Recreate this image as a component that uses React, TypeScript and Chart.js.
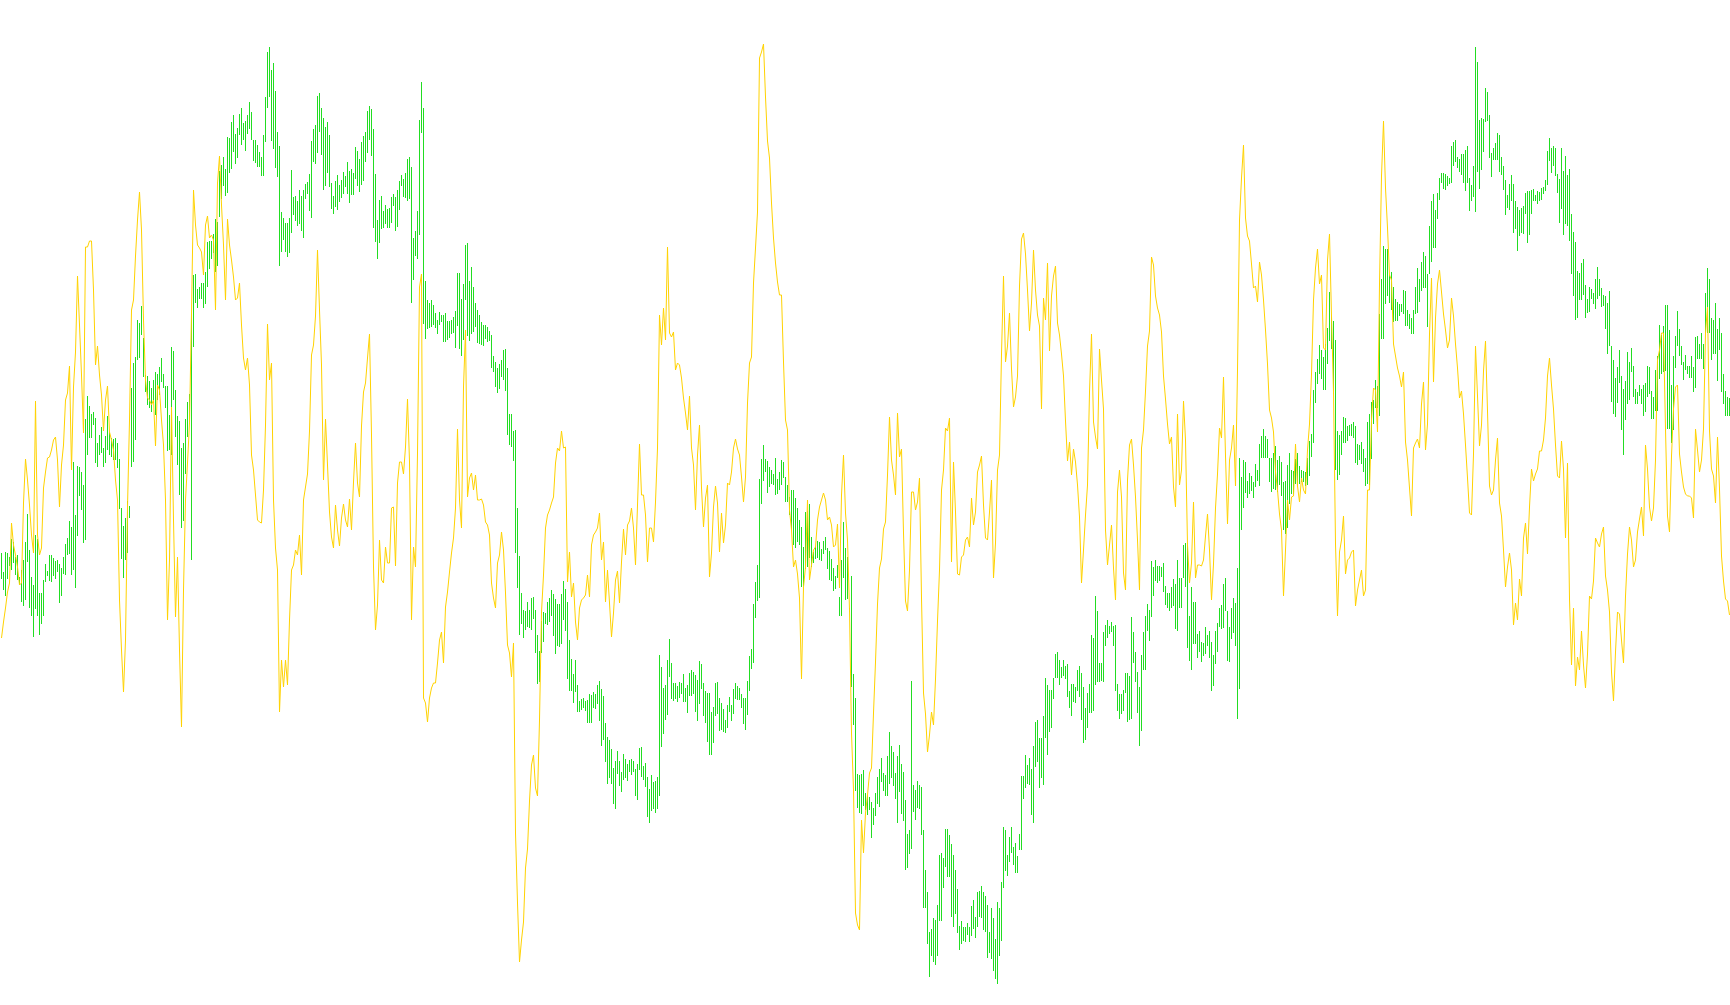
import React, { useEffect, useRef } from "react";
import { Chart, registerables } from "chart.js";

Chart.register(...registerables);

const rangeTop = [
553,572,552,553,557,539,542,557,555,577,570,560,542,514,550,577,585,535,539,593,593,580,564,571,555,555,558,561,560,564,
568,557,544,538,521,527,462,515,466,467,472,485,419,396,406,414,412,418,443,435,427,448,436,416,432,438,439,438,443,459,
508,526,518,501,506,388,363,357,320,323,306,338,375,376,381,388,380,372,374,367,358,374,386,386,415,347,351,390,416,421,448,443,419,402,394,313,
275,274,289,287,283,283,272,242,241,241,234,219,222,171,165,157,169,137,138,122,115,134,128,114,108,123,121,115,102,112,140,140,145,152,157,135,97,52,47,70,63,91,132,146,212,218,223,223,218,170,197,196,201,190,
196,190,184,182,174,141,129,125,96,93,108,118,127,122,135,183,196,181,175,185,180,172,176,162,171,169,173,147,151,159,142,136,132,111,106,109,129,174,220,200,196,211,205,209,208,197,194,197,190,181,175,179,173,159,157,167,238,231,211,120,82,108,281,300,303,300,305,313,320,312,315,315,313,321,321,320,317,311,273,273,299,284,245,243,281,267,287,303,310,315,322,325,325,327,331,335,356,362,368,364,360,350,349,368,414,414,431,430,
508,556,593,610,611,602,610,598,597,610,635,651,621,612,613,602,598,590,594,599,604,604,594,581,589,602,640,659,674,660,685,701,699,698,701,700,694,695,692,694,685,681,
689,696,723,737,740,749,768,761,751,761,772,754,759,764,760,759,761,769,764,748,747,766,763,777,789,775,782,781,777,655,667,688,685,660,639,663,683,683,686,682,683,674,688,685,673,670,672,675,680,661,664,683,691,693,693,712,707,683,682,698,703,709,720,705,697,705,689,683,686,688,694,698,698,681,656,649,604,582,565,
479,459,445,459,461,467,470,474,458,479,472,460,462,477,485,497,490,490,498,508,520,527,547,512,511,504,537,552,546,541,542,549,541,537,548,551,559,568,576,565,597,560,522,548,557,608,576,674,698,774,775,774,770,793,795,797,802,808,793,777,769,758,773,775,756,732,746,752,773,756,745,
764,772,800,834,830,681,785,790,781,785,787,830,870,892,932,929,918,920,905,855,853,858,829,829,835,844,855,870,889,926,921,927,927,923,927,906,900,917,892,891,886,892,896,905,932,908,918,939,902,908,882,827,830,855,837,827,847,843,856,834,776,776,755,765,758,769,746,722,720,738,738,716,678,685,690,690,678,654,652,660,667,660,666,664,691,684,684,687,670,666,673,687,708,693,684,635,638,596,611,663,663,632,625,620,626,622,626,625,684,694,694,690,673,673,676,617,632,652,672,687,655,632,616,604,610,561,567,560,566,566,567,563,586,593,593,587,579,584,560,578,578,545,543,543,616,587,602,602,634,631,
642,643,627,635,631,642,655,631,623,608,605,584,578,611,627,608,598,603,568,458,477,460,462,481,473,476,482,464,470,444,436,429,436,439,458,458,453,446,460,456,462,482,481,465,453,470,471,459,453,466,470,471,472,458,441,434,390,372,359,345,350,357,344,328,292,316,321,340,431,435,431,417,418,426,425,424,422,426,444,445,442,449,458,422,414,402,400,380,386,314,279,246,249,249,275,272,287,299,302,304,304,290,291,310,314,318,310,287,268,279,262,252,256,274,226,201,194,210,193,178,173,173,174,176,178,
146,142,140,157,159,154,154,150,146,178,185,166,47,62,120,118,119,88,92,115,153,148,143,133,135,157,166,180,195,184,175,184,201,207,210,208,206,193,191,191,190,189,195,191,192,188,187,180,151,138,148,146,148,174,179,148,171,156,175,169,214,232,242,271,273,263,259,285,299,287,289,293,279,267,279,288,295,296,303,291,346,360,378,367,350,376,389,381,352,362,348,366,389,392,385,389,385,383,366,367,391,397,370,356,325,335,326,305,305,330,385,356,336,311,329,346,362,355,366,366,356,367,337,336,344,333,344,293,268,279,318,320,303,329,318,333,374,391,397,398,
];

const rangeBottom = [
579,590,596,579,566,570,563,575,580,585,602,606,600,562,608,616,637,609,616,635,624,616,582,576,581,582,576,579,572,603,
596,574,575,555,554,575,570,588,536,496,510,543,540,455,438,438,425,463,467,455,453,467,463,450,455,457,460,460,468,509,
559,578,560,553,518,467,462,440,360,358,335,377,392,405,408,412,403,415,400,395,382,388,408,451,450,455,400,437,465,495,528,521,474,437,424,560,
347,303,308,299,299,308,304,287,269,259,253,272,266,217,199,186,196,193,173,169,152,164,158,135,145,140,151,134,129,140,161,163,167,167,176,176,142,108,97,141,149,168,177,266,252,240,252,257,253,233,215,221,226,224,
231,238,199,194,211,218,162,164,153,132,155,190,186,173,187,209,214,207,210,202,198,194,187,194,203,195,195,179,186,192,185,181,162,153,140,156,228,242,259,243,229,228,224,228,228,223,206,231,227,210,186,197,198,201,199,303,280,256,259,235,133,324,339,329,328,327,325,328,334,325,322,342,342,340,338,334,333,348,326,349,356,340,300,336,341,334,332,327,343,344,345,346,339,342,341,368,372,387,393,389,377,380,391,435,445,447,461,553,
588,635,624,638,630,627,628,630,619,653,684,682,653,642,624,625,622,616,636,654,646,647,644,620,631,679,691,691,703,692,712,712,710,708,711,723,723,723,708,709,704,721,
746,740,762,784,778,784,804,809,774,786,792,780,778,781,772,775,772,796,800,770,777,780,787,817,823,811,809,813,809,796,747,734,720,715,677,699,701,699,702,698,694,702,702,713,696,696,694,712,721,704,689,716,723,742,755,755,743,716,714,731,730,732,733,728,712,721,714,699,700,700,708,724,730,715,691,669,663,618,601,
598,504,481,472,493,487,484,485,495,494,490,485,478,502,502,515,530,545,548,542,545,587,586,569,567,558,567,563,559,558,560,561,554,550,569,580,581,591,589,578,616,616,578,600,599,612,687,725,791,808,813,814,806,810,815,810,838,825,816,804,807,782,791,796,796,784,778,786,799,823,792,
814,821,870,868,854,849,812,820,808,809,835,908,908,944,977,956,962,965,956,921,921,888,867,877,877,917,927,914,933,950,944,941,942,935,942,936,929,938,927,917,918,930,932,958,953,959,971,979,984,956,941,888,871,876,862,853,865,873,873,850,850,799,788,784,785,815,823,767,762,788,778,785,738,755,732,728,699,678,678,685,678,676,679,697,708,716,702,703,691,697,720,743,740,728,713,713,711,685,682,682,681,682,646,638,634,632,646,691,711,719,714,711,693,722,720,719,663,682,713,746,731,670,670,631,641,617,596,581,583,581,577,592,605,608,611,608,606,629,631,608,608,578,587,648,661,670,644,644,658,652,
662,656,654,646,658,691,686,664,652,627,629,628,611,661,662,639,633,646,719,689,530,508,493,498,494,491,498,487,481,486,458,458,458,458,482,492,489,490,492,485,496,530,534,528,504,494,494,484,485,484,482,482,486,485,476,457,443,403,384,374,379,390,390,364,341,349,394,470,480,475,455,443,443,441,436,436,438,463,465,460,464,472,486,484,485,459,424,408,408,416,339,339,304,296,303,310,322,321,321,316,312,314,326,326,329,334,334,314,313,302,291,288,288,327,274,262,248,248,219,200,183,189,190,186,184,
183,166,162,168,172,175,183,191,183,211,201,197,212,172,189,170,152,122,121,158,177,160,160,160,172,175,190,215,208,210,201,233,229,251,236,233,234,214,243,235,214,201,201,204,201,200,194,191,185,161,173,166,176,193,223,209,235,224,226,241,274,296,320,318,300,300,295,318,313,312,299,304,309,299,296,307,306,329,354,346,402,414,417,403,383,430,455,420,404,400,372,397,404,404,396,404,416,412,397,394,419,419,411,411,379,374,372,371,429,429,443,430,368,346,356,365,380,370,374,378,378,392,388,359,359,359,369,333,333,333,360,354,354,381,350,392,404,416,416,416,
];

const lineValues = [
638,622,608,592,583,523,545,555,567,585,583,503,459,480,505,535,553,401,535,555,548,488,472,458,457,450,440,437,460,507,465,445,400,393,366,470,387,352,276,325,375,433,247,247,241,241,290,365,346,375,395,431,400,386,432,440,450,480,500,600,650,692,640,507,420,310,300,256,220,192,230,320,380,398,400,405,400,446,385,390,420,445,500,620,560,407,520,617,557,650,727,590,500,463,423,313,190,225,245,248,252,275,225,216,238,235,240,310,183,156,205,245,300,219,245,260,277,300,298,283,325,358,370,358,385,455,470,495,520,522,523,490,425,324,380,363,500,548,570,712,660,687,660,685,620,570,565,550,555,535,
575,500,487,474,431,355,345,316,250,310,365,480,419,465,512,537,548,505,530,546,518,504,520,527,499,530,482,443,483,497,426,392,383,358,334,435,567,630,605,540,580,583,547,563,563,508,507,566,483,462,462,474,447,399,462,620,547,567,453,287,274,698,703,722,698,688,683,683,663,640,632,663,607,592,572,553,538,508,429,500,528,387,330,497,478,473,490,475,500,500,499,505,522,525,535,583,598,608,563,555,532,550,593,645,653,677,643,833,903,962,940,922,868,849,801,765,755,788,796,720,612,575,528,515,510,503,497,463,448,451,431,448,447,582,552,597,583,622,640,608,600,598,595,575,597,545,535,532,528,513,
560,542,602,570,603,637,613,580,571,603,562,529,555,525,521,508,528,565,505,444,495,495,515,562,528,528,542,502,448,315,345,308,340,247,333,337,332,370,363,365,378,398,413,430,396,448,465,510,455,425,488,527,498,485,577,553,507,486,503,552,513,543,525,483,485,472,448,439,449,455,477,502,477,403,363,357,283,248,212,58,52,44,97,141,158,203,238,263,282,295,295,362,420,430,510,530,567,560,574,598,679,587,567,500,580,565,550,547,520,507,500,493,500,520,517,525,547,545,524,588,495,455,513,540,610,733,790,913,925,930,820,853,813,795,773,768,713,662,604,568,559,529,522,475,417,460,475,495,413,457,
449,533,601,611,570,492,492,510,502,478,598,693,714,752,735,712,725,679,621,570,490,470,428,431,418,562,462,512,574,575,557,555,540,537,547,498,525,512,472,465,456,505,538,540,512,480,578,543,470,455,354,276,362,346,313,369,407,397,376,286,239,233,254,290,331,303,250,290,315,326,409,298,320,263,351,296,276,266,323,335,354,376,421,461,442,475,449,462,485,517,583,550,515,485,392,334,422,437,449,349,380,409,530,565,545,525,568,600,492,470,497,573,590,480,445,439,465,497,540,590,448,430,391,346,331,257,265,296,308,315,332,376,399,424,444,437,487,507,414,485,470,401,440,545,583,563,502,578,565,565,
566,560,536,514,550,600,564,508,474,428,438,377,456,524,460,448,425,486,370,220,178,145,218,236,241,264,288,286,302,262,275,300,330,364,410,418,432,472,490,514,530,596,550,500,520,497,496,444,486,502,478,490,494,450,424,374,300,268,249,284,275,348,350,260,234,316,392,544,616,552,540,516,574,560,558,552,550,606,590,580,570,596,590,490,490,420,388,390,432,284,176,121,188,228,275,280,344,356,368,376,387,372,442,460,488,516,448,443,439,448,404,382,450,424,334,278,382,318,284,270,292,314,330,348,340,
298,316,344,368,398,391,414,445,478,513,515,454,346,396,446,425,371,341,411,486,495,490,460,438,503,516,550,587,567,553,570,625,603,620,579,596,538,523,554,507,469,481,474,469,451,451,440,418,376,358,385,409,445,476,478,441,469,538,463,599,665,608,686,657,670,631,665,688,654,596,599,581,538,543,547,534,527,576,590,612,672,701,652,612,614,640,663,596,554,527,540,567,560,532,519,507,536,445,469,507,521,508,460,360,350,333,333,429,516,532,456,409,387,385,454,472,487,494,496,496,498,518,429,450,472,460,429,333,307,431,469,476,503,437,489,556,581,599,601,615,
];

export default function App() {
  const ref = useRef<HTMLCanvasElement | null>(null);
  useEffect(() => {
    const chart = new Chart(ref.current as HTMLCanvasElement, {
      type: "bar",
      data: {
        datasets: [
          {
            type: "line",
            data: lineValues.map((y, x) => ({ x, y })),
            borderColor: "#FFD200",
            borderWidth: 1,
            borderJoinStyle: "bevel",
            pointRadius: 0,
            tension: 0,
            order: 0,
          },
          {
            type: "bar",
            data: rangeTop.map((t, x) => ({ x, y: [t, rangeBottom[x]] })),
            backgroundColor: "#22DD22",
            borderWidth: 0,
            inflateAmount: 0,
            barThickness: 1,
            order: 1,
          },
        ],
      } as any,
      options: {
        responsive: false,
        animation: false,
        events: [],
        layout: { padding: 0 },
        plugins: { legend: { display: false }, tooltip: { enabled: false } },
        scales: {
          x: { type: "linear", min: -0.75, max: 864.25, display: false, offset: false },
          y: { type: "linear", min: 0, max: 1005, reverse: true, display: false },
        },
      } as any,
    });
    return () => chart.destroy();
  }, []);
  return (
    <div style={{ position: "absolute", left: 0, top: 0, width: 1730, height: 1005, background: "#fff" }}>
      <canvas ref={ref} width={1730} height={1005} style={{ display: "block" }} />
    </div>
  );
}
